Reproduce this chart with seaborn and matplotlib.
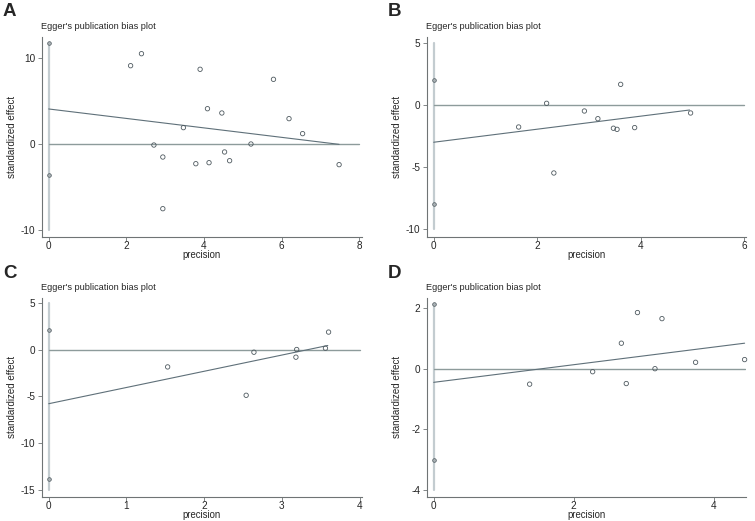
import numpy as np
import pandas as pd
import matplotlib
matplotlib.use('Agg')
import matplotlib.pyplot as plt
import seaborn as sns

# ---------- data ----------
# A
a_prec = [2.11, 2.39, 2.71, 2.94, 2.94, 3.47, 3.79, 3.90, 4.09, 4.13, 4.46, 4.53, 4.66, 5.21, 5.79, 6.19, 6.54, 7.48]
a_eff = [9.14, 10.54, -0.12, -1.52, -7.55, 1.91, -2.30, 8.72, 4.12, -2.18, 3.62, -0.93, -1.95, 0.0, 7.55, 2.96, 1.21, -2.41]
a_ci = [11.75, -3.62]
a_reg_x = [0, 7.48]
a_reg_y = [4.09, -0.04]
a_yticks = [-10, 0, 10]
a_xticks = [0, 2, 4, 6, 8]

# B
b_prec = [1.64, 2.18, 2.32, 2.91, 3.17, 3.47, 3.54, 3.61, 3.88, 4.96]
b_eff = [-1.75, 0.16, -5.46, -0.46, -1.08, -1.85, -1.94, 1.69, -1.80, -0.62]
b_ci = [2.04, -7.96]
b_reg_x = [0, 4.94]
b_reg_y = [-2.98, -0.38]
b_yticks = [-10, -5, 0, 5]
b_xticks = [0, 2, 4, 6]

# C
c_prec = [1.53, 2.54, 2.64, 3.18, 3.19, 3.56, 3.60]
c_eff = [-1.86, -4.89, -0.29, -0.82, 0.0, 0.14, 1.86]
c_ci = [2.07, -13.79]
c_reg_x = [0, 3.59]
c_reg_y = [-5.79, 0.43]
c_yticks = [-15, -10, -5, 0, 5]
c_xticks = [0, 1, 2, 3, 4]

# D
d_prec = [1.37, 2.27, 2.68, 2.75, 2.91, 3.16, 3.26, 3.74, 4.44]
d_eff = [-0.51, -0.10, 0.84, -0.49, 1.85, 0.0, 1.65, 0.21, 0.30]
d_ci = [2.14, -3.01]
d_reg_x = [0, 4.44]
d_reg_y = [-0.45, 0.84]
d_yticks = [-4, -2, 0, 2]
d_xticks = [0, 2, 4]

sns.set_style('white')
plt.rcParams['font.family'] = ['Liberation Sans', 'DejaVu Sans']
plt.rcParams['axes.unicode_minus'] = False

W, H = 755, 521
fig = plt.figure(figsize=(W / 100, H / 100), dpi=100)

spine_col = '#6f7475'
vline_col = '#c3ccd0'
hline_col = '#8d9b9b'
reg_col = '#5f7079'
mark_col = '#4f5a60'

panels = [
    # letter, px box (left, right, top, bottom), xlim, ylim, data...
    ('A', (42, 362, 37, 236.7), (-0.172, 8.07), (-10.82, 12.49),
     a_prec, a_eff, a_ci, a_reg_x, a_reg_y, a_xticks, a_yticks, (-10, 11.75), 8),
    ('B', (426.7, 746, 37, 236.7), (-0.135, 6.03), (-10.6, 5.51),
     b_prec, b_eff, b_ci, b_reg_x, b_reg_y, b_xticks, b_yticks, (-10, 5), 6),
    ('C', (42, 362, 298, 496.7), (-0.086, 4.03), (-15.72, 5.5),
     c_prec, c_eff, c_ci, c_reg_x, c_reg_y, c_xticks, c_yticks, (-15, 5), 4),
    ('D', (426.7, 746, 298, 496.7), (-0.1, 4.46), (-4.22, 2.33),
     d_prec, d_eff, d_ci, d_reg_x, d_reg_y, d_xticks, d_yticks, (-4, 2.14), 4.44),
]

for (letter, box, xlim, ylim, prec, eff, ci, rx, ry, xt, yt, vspan, hend) in panels:
    l, r, t, b = box
    ax = fig.add_axes([l / W, 1 - b / H, (r - l) / W, (b - t) / H])

    # vertical line at precision 0 and horizontal reference line at 0
    ax.plot([0, 0], list(vspan), color=vline_col, lw=1.6, zorder=1)
    ax.plot([0, hend], [0, 0], color=hline_col, lw=1.0, zorder=1)

    # egger regression line
    reg = pd.DataFrame({'x': rx, 'y': ry})
    sns.lineplot(data=reg, x='x', y='y', ax=ax, color=reg_col, lw=0.8, zorder=2)

    # study points
    df = pd.DataFrame({'precision': prec, 'effect': eff})
    sns.scatterplot(data=df, x='precision', y='effect', ax=ax, s=10,
                    facecolor='none', edgecolor=mark_col, linewidth=0.6,
                    zorder=3, clip_on=False)
    # intercept CI ends
    ci_df = pd.DataFrame({'precision': [0] * len(ci), 'effect': ci})
    sns.scatterplot(data=ci_df, x='precision', y='effect', ax=ax, s=7,
                    color='#a9b1b4', edgecolor=mark_col, linewidth=0.5, zorder=3)

    ax.set_xlim(*xlim)
    ax.set_ylim(*ylim)
    ax.set_xticks(xt)
    ax.set_yticks(yt)
    ax.set_xlabel('precision', fontsize=6.9, va='center')
    ax.set_ylabel('standardized effect', fontsize=7)
    ax.xaxis.set_label_coords(0.5, -18.8 / (b - t))
    ax.yaxis.set_label_coords(-25 / (r - l), 0.5)
    ax.tick_params(axis='both', labelsize=7.2, length=2.8, width=0.6,
                   color=spine_col, pad=1.8, direction='out',
                   bottom=True, left=True)
    ax.tick_params(axis='x', pad=0.5)
    for s in ['top', 'right']:
        ax.spines[s].set_visible(False)
    for s in ['left', 'bottom']:
        ax.spines[s].set_color(spine_col)
        ax.spines[s].set_linewidth(0.8)

    ax.text(-0.003, 1.055, "Egger's publication bias plot", transform=ax.transAxes,
            fontsize=6.6, ha='left', va='center')
    fig.text((l - 39) / W, 1 - 12 / H - (t - 37) / H, letter,
             fontsize=13.5, fontweight='bold', ha='left', va='center')

fig.savefig('out.png', dpi=100)
